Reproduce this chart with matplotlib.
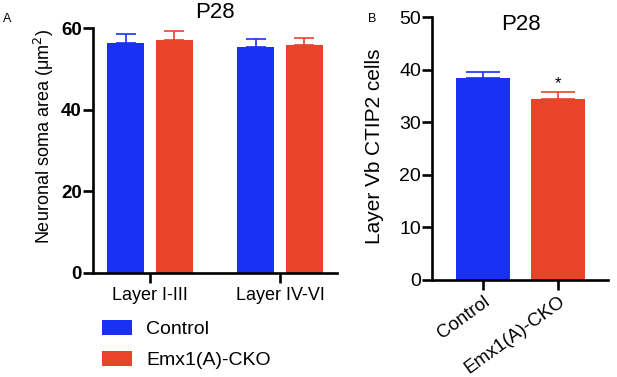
import matplotlib
matplotlib.use("Agg")
import matplotlib.pyplot as plt
from matplotlib.patches import Patch
import numpy as np

plt.rcParams['font.family'] = ['Liberation Sans', 'DejaVu Sans']

# Panel A data
layers = ["Layer I-III", "Layer IV-VI"]
soma_control = [56.4, 55.5]
soma_control_err = [2.1, 1.9]
soma_cko = [57.2, 55.8]
soma_cko_err = [2.2, 1.9]
yticks_a = [0, 20, 40, 60]

# Panel B data
groups_b = ["Control", "Emx1(A)-CKO"]
ctip2 = [38.5, 34.4]
ctip2_err = [1.1, 1.4]
yticks_b = [0, 10, 20, 30, 40, 50]

blue = "#1a30f5"
red = "#e84429"
W, H = 617, 377
fig = plt.figure(figsize=(W / 100, H / 100), dpi=100)

def ax_rect(x0, x1, y0, y1):
    return [x0 / W, 1 - y1 / H, (x1 - x0) / W, (y1 - y0) / H]

lw = 1.9

# ---------------- Panel A ----------------
axA = fig.add_axes(ax_rect(93, 337, 28.2, 272.7))
x = np.arange(len(layers))
bw, off = 0.285, 0.188
axA.bar(x - off, soma_control, bw, color=blue, zorder=2)
axA.bar(x + off, soma_cko, bw, color=red, zorder=2)
axA.errorbar(x - off, soma_control, yerr=[np.zeros(2), soma_control_err], fmt='none',
             ecolor=blue, elinewidth=1.2, capsize=7, capthick=1.2, zorder=1)
axA.errorbar(x + off, soma_cko, yerr=[np.zeros(2), soma_cko_err], fmt='none',
             ecolor=red, elinewidth=1.2, capsize=7, capthick=1.2, zorder=1)
axA.set_xlim(-0.438, 1.438)
axA.set_ylim(0, 60)
axA.set_yticks(yticks_a)
axA.set_yticklabels([str(v) for v in yticks_a], fontsize=13.5, fontweight='bold')
axA.set_xticks(x)
axA.set_xticklabels(layers, fontsize=13)
axA.tick_params(axis='both', width=lw, length=7.5, direction='out', pad=3)
axA.tick_params(axis='y', pad=0.5)
for s in ['top', 'right']:
    axA.spines[s].set_visible(False)
for s in ['left', 'bottom']:
    axA.spines[s].set_linewidth(lw)
fig.text(44 / W, 1 - 136 / H, "Neuronal soma area (μm$^2$)", rotation=90,
         ha='center', va='center', fontsize=13)
fig.text(215 / W, 1 - 12 / H, "P28", ha='center', va='center', fontsize=16)
fig.text(7 / W, 1 - 19 / H, "A", ha='center', va='center', fontsize=9)

handles = [Patch(facecolor=blue, label="Control"), Patch(facecolor=red, label="Emx1(A)-CKO")]
fig.legend(handles=handles, loc='upper left', bbox_to_anchor=(102 / W, 1 - 320 / H),
           frameon=False, fontsize=14, handlelength=1.55, handleheight=0.8,
           handletextpad=0.72, labelspacing=0.65, borderaxespad=0, borderpad=0)

# ---------------- Panel B ----------------
axB = fig.add_axes(ax_rect(432, 608, 17.3, 280))
xb = np.arange(len(groups_b))
colors_b = [blue, red]
axB.bar(xb, ctip2, 0.72, color=colors_b, zorder=2)
for i in range(len(xb)):
    axB.errorbar(xb[i], ctip2[i], yerr=[[0], [ctip2_err[i]]], fmt='none',
                 ecolor=colors_b[i], elinewidth=1.2, capsize=12, capthick=1.2, zorder=1)
axB.text(xb[1], ctip2[1] + ctip2_err[1] + 0.1, "*", ha='center', va='bottom', fontsize=12)
axB.set_xlim(-0.68, 1.667)
axB.set_ylim(0, 50)
axB.set_yticks(yticks_b)
axB.set_yticklabels([str(v) for v in yticks_b], fontsize=14)
axB.set_xticks(xb)
axB.set_xticklabels(groups_b, fontsize=13.5, rotation=36, ha='right', va='top',
                    rotation_mode='anchor')
axB.tick_params(axis='both', width=lw, length=7.5, direction='out')
axB.tick_params(axis='x', pad=2)
axB.tick_params(axis='y', pad=0.5)
for s in ['top', 'right']:
    axB.spines[s].set_visible(False)
for s in ['left', 'bottom']:
    axB.spines[s].set_linewidth(lw)
fig.text(375 / W, 1 - 146 / H, "Layer Vb CTIP2 cells", rotation=90,
         ha='center', va='center', fontsize=15)
fig.text(521 / W, 1 - 24 / H, "P28", ha='center', va='center', fontsize=16)
fig.text(372 / W, 1 - 19 / H, "B", ha='center', va='center', fontsize=9)

fig.savefig("out.png", dpi=100)
